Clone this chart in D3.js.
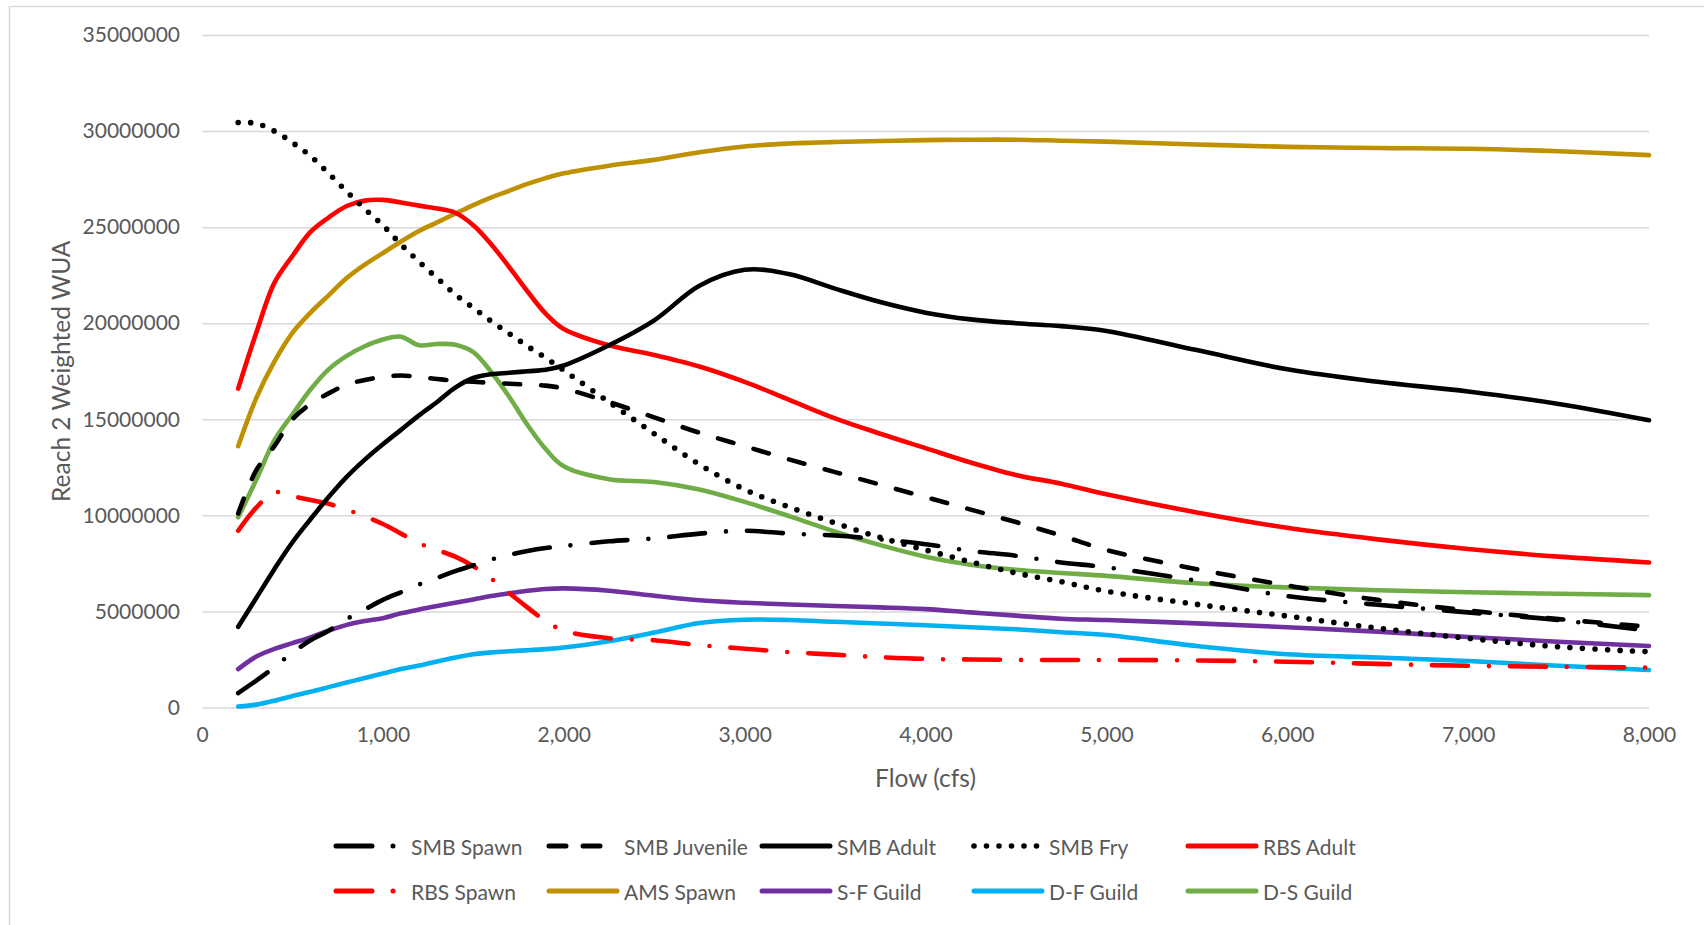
<!DOCTYPE html>
<html>
<head>
<meta charset="utf-8">
<script src="https://cdn.jsdelivr.net/npm/d3@7/dist/d3.min.js"></script>
<style>
  html, body { margin: 0; padding: 0; background: #fff; }
  svg { display: block; font-family: Lato, "Open Sans", sans-serif; }
</style>
</head>
<body>
<div id="chart"></div>
<script>
// ---------------------------------------------------------------------------
// Data (WUA values in millions)
// ---------------------------------------------------------------------------
const flows = [200, 300, 400, 500, 600, 700, 800, 900, 1000, 1100, 1200, 1300, 1400, 1500,
  1600, 1700, 1800, 1900, 2000, 2250, 2500, 2750, 3000, 3250, 3500, 3750, 4000, 4250,
  4500, 4750, 5000, 5500, 6000, 6500, 7000, 7500, 8000];

const smbSpawn = [0.75, 1.4, 2.1, 2.85, 3.5, 4.0, 4.6, 5.1, 5.6, 6.0, 6.4, 6.75, 7.1, 7.4,
  7.7, 7.95, 8.15, 8.3, 8.4, 8.65, 8.8, 9.05, 9.2, 9.05, 8.95, 8.75, 8.5, 8.15,
  7.9, 7.55, 7.3, 6.6, 5.8, 5.35, 4.95, 4.55, 4.0];
const smbJuvenile = [10.1, 12.35, 13.6, 15.0, 15.8, 16.35, 16.8, 17.05, 17.2, 17.28, 17.2, 17.1, 17.0, 16.95,
  16.9, 16.85, 16.8, 16.75, 16.6, 15.9, 15.1, 14.3, 13.6, 12.9, 12.25, 11.6, 10.95, 10.3,
  9.65, 8.95, 8.2, 7.2, 6.35, 5.6, 5.05, 4.6, 4.2];
const smbAdult = [4.2, 5.7, 7.2, 8.6, 9.8, 10.95, 12.0, 12.9, 13.7, 14.45, 15.2, 15.9, 16.65, 17.15,
  17.35, 17.42, 17.5, 17.58, 17.8, 18.85, 20.15, 21.95, 22.78, 22.55, 21.8, 21.1, 20.55, 20.2,
  20.0, 19.85, 19.6, 18.6, 17.6, 16.95, 16.45, 15.8, 14.95];
const smbFry = [30.45, 30.4, 30.0, 29.4, 28.7, 27.8, 26.85, 25.95, 25.1, 24.1, 23.2, 22.35, 21.5, 20.8,
  20.1, 19.45, 18.8, 18.2, 17.55, 15.9, 14.25, 12.65, 11.35, 10.42, 9.6, 8.85, 8.2, 7.58,
  7.0, 6.55, 6.05, 5.37, 4.76, 4.13, 3.6, 3.16, 2.9];
const rbsAdult = [16.6, 19.5, 22.1, 23.5, 24.75, 25.5, 26.1, 26.38, 26.42, 26.28, 26.12, 25.97, 25.75, 25.1,
  24.1, 22.9, 21.65, 20.5, 19.7, 18.85, 18.35, 17.75, 16.95, 16.0, 15.05, 14.25, 13.5, 12.75,
  12.1, 11.65, 11.1, 10.15, 9.35, 8.75, 8.25, 7.85, 7.55];
const rbsSpawn = [9.2, 10.4, 11.2, 11.0, 10.8, 10.6, 10.3, 9.95, 9.55, 9.05, 8.55, 8.2, 7.85, 7.35,
  6.7, 5.95, 5.2, 4.5, 4.0, 3.6, 3.5, 3.25, 3.06, 2.88, 2.75, 2.62, 2.53, 2.5,
  2.48, 2.47, 2.47, 2.45, 2.38, 2.27, 2.17, 2.12, 2.08];
const amsSpawn = [13.6, 16.1, 18.0, 19.5, 20.55, 21.45, 22.35, 23.05, 23.65, 24.25, 24.8, 25.25, 25.7, 26.15,
  26.55, 26.9, 27.25, 27.55, 27.8, 28.2, 28.5, 28.9, 29.2, 29.35, 29.43, 29.48, 29.53, 29.55,
  29.55, 29.5, 29.45, 29.3, 29.18, 29.12, 29.08, 28.95, 28.75];
const sfGuild = [2.0, 2.65, 3.05, 3.35, 3.65, 4.0, 4.3, 4.5, 4.65, 4.9, 5.1, 5.28, 5.45, 5.62,
  5.8, 5.95, 6.08, 6.17, 6.2, 6.08, 5.82, 5.58, 5.45, 5.36, 5.28, 5.21, 5.12, 4.95,
  4.78, 4.62, 4.55, 4.38, 4.18, 3.95, 3.67, 3.42, 3.2];
const dfGuild = [0.05, 0.15, 0.35, 0.6, 0.82, 1.06, 1.3, 1.54, 1.77, 2.0, 2.18, 2.4, 2.6, 2.77,
  2.87, 2.93, 2.98, 3.04, 3.12, 3.45, 3.9, 4.4, 4.57, 4.55, 4.46, 4.37, 4.28, 4.18,
  4.07, 3.92, 3.77, 3.2, 2.77, 2.6, 2.42, 2.17, 1.95];
const dsGuild = [9.9, 11.85, 13.9, 15.25, 16.55, 17.6, 18.3, 18.8, 19.15, 19.3, 18.85, 18.92, 18.88, 18.5,
  17.45, 16.15, 14.7, 13.45, 12.55, 11.88, 11.74, 11.35, 10.7, 9.95, 9.15, 8.45, 7.85, 7.43,
  7.17, 7.0, 6.85, 6.47, 6.25, 6.1, 6.0, 5.92, 5.85];

const seriesNames = ['SMB Spawn', 'SMB Juvenile', 'SMB Adult', 'SMB Fry', 'RBS Adult',
  'RBS Spawn', 'AMS Spawn', 'S-F Guild', 'D-F Guild', 'D-S Guild'];
const seriesValues = [smbSpawn, smbJuvenile, smbAdult, smbFry, rbsAdult,
  rbsSpawn, amsSpawn, sfGuild, dfGuild, dsGuild];
const seriesColors = ['#000000', '#000000', '#000000', '#000000', '#ff0000',
  '#ff0000', '#bf9000', '#7030a0', '#00b0f0', '#70ad47'];
// dash style per series: longDashDot, dash, solid, dot
const seriesDash = ['longDashDot', 'dash', 'solid', 'dot', 'solid',
  'longDashDot', 'solid', 'solid', 'solid', 'solid'];

const xTicks = [0, 1000, 2000, 3000, 4000, 5000, 6000, 7000, 8000];
const yTicks = [0, 5000000, 10000000, 15000000, 20000000, 25000000, 30000000, 35000000];

// ---------------------------------------------------------------------------
// Layout
// ---------------------------------------------------------------------------
const width = 1704, height = 925;
const margin = { top: 35, right: 55, bottom: 217, left: 202 };
const textColor = '#595959';
const gridColor = '#d9d9d9';
const lineWidth = 4.6;
const dotWidth = 5.6;

const dashArrays = {
  solid: null,
  dash: '16 21',
  longDashDot: '36 21 0 21',
  dot: '0 12.5'
};

const svg = d3.select('#chart').append('svg')
  .attr('width', width)
  .attr('height', height);

// chart area border (runs off the right and bottom edge like the original)
svg.append('rect')
  .attr('x', 9.5).attr('y', 6.5)
  .attr('width', width).attr('height', height)
  .attr('fill', '#fff')
  .attr('stroke', gridColor)
  .attr('stroke-width', 1.5);

const x = d3.scaleLinear()
  .domain([0, 8000])
  .range([margin.left, width - margin.right]);

const y = d3.scaleLinear()
  .domain([0, 35000000])
  .range([height - margin.bottom - 0.5, margin.top]);

// gridlines
svg.append('g')
  .attr('transform', `translate(${margin.left},0)`)
  .call(d3.axisLeft(y).tickValues(yTicks).tickSize(-(x.range()[1] - x.range()[0])).tickFormat(''))
  .call(g => g.select('.domain').remove())
  .call(g => g.selectAll('line').attr('stroke', gridColor).attr('stroke-width', 1.5));

// y axis labels
svg.append('g')
  .attr('transform', `translate(${margin.left},0)`)
  .call(d3.axisLeft(y).tickValues(yTicks).tickSize(0).tickPadding(22).tickFormat(d3.format('d')))
  .call(g => g.select('.domain').remove())
  .call(g => g.selectAll('text')
    .attr('fill', textColor)
    .style('font-size', '21px')
    .style('font-family', 'Lato, sans-serif'));

// x axis labels
svg.append('g')
  .attr('transform', `translate(0,${y(0)})`)
  .call(d3.axisBottom(x).tickValues(xTicks).tickSize(0).tickPadding(20).tickFormat(d3.format(',')))
  .call(g => g.select('.domain').remove())
  .call(g => g.selectAll('text')
    .attr('fill', textColor)
    .style('font-size', '21px')
    .style('font-family', 'Lato, sans-serif'));

// axis titles
svg.append('text')
  .attr('transform', `translate(60,${(y(0) + y(35000000)) / 2}) rotate(-90)`)
  .attr('text-anchor', 'middle')
  .attr('dominant-baseline', 'central')
  .attr('fill', textColor)
  .style('font-size', '24.5px')
  .text('Reach 2 Weighted WUA');

svg.append('text')
  .attr('x', (x(0) + x(8000)) / 2)
  .attr('y', 777)
  .attr('text-anchor', 'middle')
  .attr('dominant-baseline', 'central')
  .attr('fill', textColor)
  .style('font-size', '24.5px')
  .text('Flow (cfs)');

// series lines
const line = d3.line()
  .x(d => x(d[0]))
  .y(d => y(d[1] * 1e6))
  .curve(d3.curveCatmullRom.alpha(0.5));

const seriesData = seriesNames.map((name, i) => ({
  name,
  color: seriesColors[i],
  dash: seriesDash[i],
  points: flows.map((f, j) => [f, seriesValues[i][j]])
}));

// draw in reverse legend order so black lines sit on top like the original
const drawOrder = [9, 8, 7, 6, 5, 4, 2, 1, 0, 3];
svg.append('g')
  .selectAll('path')
  .data(drawOrder.map(i => seriesData[i]))
  .join('path')
    .attr('d', d => line(d.points))
    .attr('fill', 'none')
    .attr('stroke', d => d.color)
    .attr('stroke-width', d => d.dash === 'dot' ? dotWidth : lineWidth)
    .attr('stroke-linecap', 'round')
    .attr('stroke-linejoin', 'round')
    .attr('stroke-dasharray', d => dashArrays[d.dash]);

// legend
const legendCols = [334, 547, 760, 972, 1186];
const legendRows = [846, 891];
const legend = svg.append('g')
  .selectAll('g')
  .data(seriesData)
  .join('g')
    .attr('transform', (d, i) => `translate(${legendCols[i % 5]},${legendRows[Math.floor(i / 5)]})`);

legend.append('line')
  .attr('x1', 2).attr('x2', 70)
  .attr('y1', 0).attr('y2', 0)
  .attr('stroke', d => d.color)
  .attr('stroke-width', d => d.dash === 'dot' ? dotWidth : 5)
  .attr('stroke-linecap', 'round')
  .attr('stroke-dasharray', d => d.dash === 'dash' ? '17 17' : dashArrays[d.dash]);

legend.append('text')
  .attr('x', 77)
  .attr('y', 0)
  .attr('dominant-baseline', 'central')
  .attr('fill', textColor)
  .style('font-size', '21px')
  .text(d => d.name);
</script>
</body>
</html>
